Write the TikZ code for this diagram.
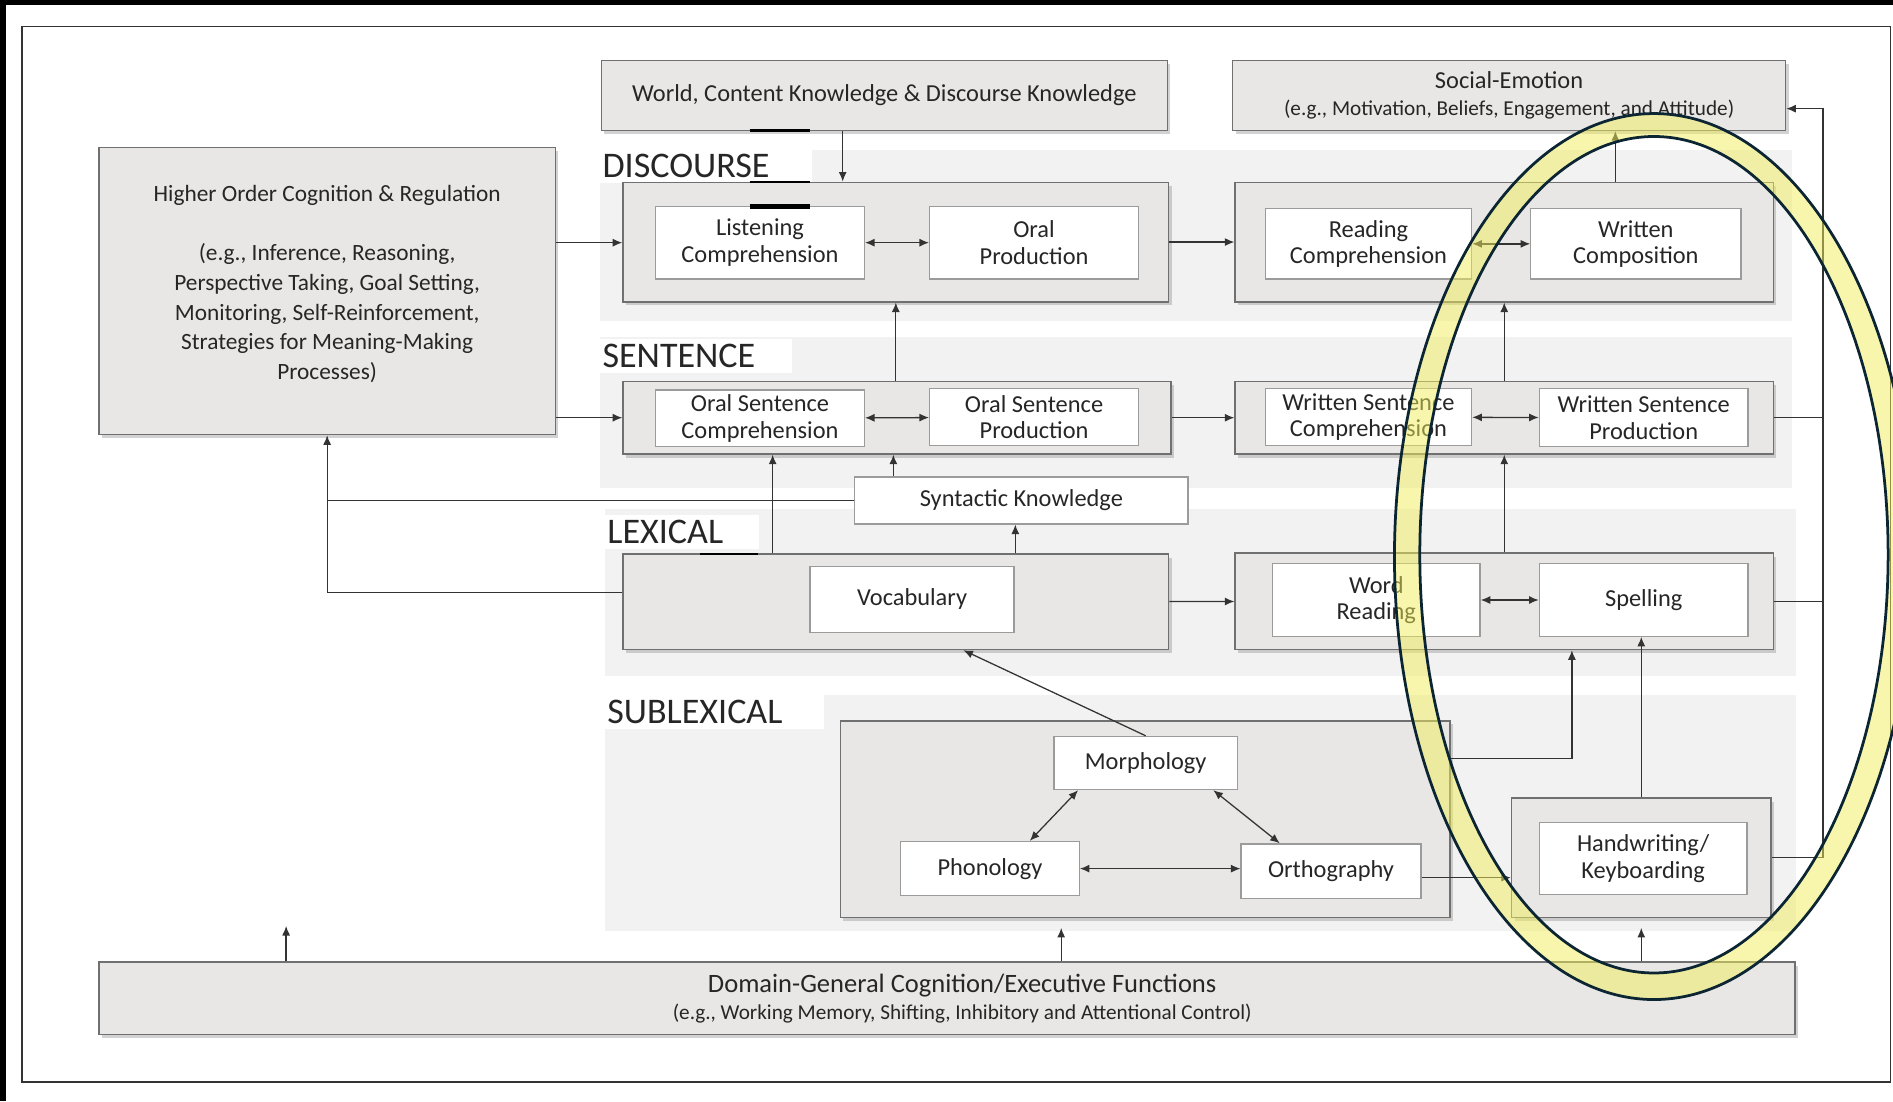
\documentclass[tikz,border=0pt]{standalone}
\usepackage{fontspec}
\setmainfont{Carlito}
\usetikzlibrary{arrows.meta,shadows}
\definecolor{bandgray}{HTML}{F2F2F2}
\definecolor{boxgray}{HTML}{E8E7E6}
\definecolor{edgegray}{HTML}{707070}
\definecolor{linegray}{HTML}{333333}
\definecolor{txtgray}{HTML}{262626}
\definecolor{ringyellow}{HTML}{F0EE5A}
\definecolor{ringnavy}{HTML}{0B2533}
\tikzset{
  wh/.style 2 args={minimum width=#1cm, minimum height=#2cm},
  grp/.style={draw=edgegray, fill=boxgray, line width=0.7pt, inner sep=0pt,
    drop shadow={shadow xshift=0.05cm, shadow yshift=-0.06cm, opacity=0.35}},
  big/.style={grp, align=center, text=txtgray, font=\fontsize{11.5}{13}\selectfont},
  item/.style={draw=edgegray!70, fill=white, line width=0.6pt, inner sep=0pt,
    align=center, text=txtgray, font=\fontsize{11.5}{12.5}\selectfont},
  lvl/.style={anchor=west, fill=white, text width=#1, inner xsep=1pt, inner ysep=0pt,
    minimum height=0.56cm, text=txtgray, font=\fontsize{17}{17}\selectfont},
  lnk/.style={draw=linegray, line width=0.6pt},
}
\begin{document}
\begin{tikzpicture}[x=0.02cm, y=-0.02cm, >={Latex[length=4.5pt,width=3.8pt]}]
    \useasboundingbox (0,0) rectangle (1568,912);
    \clip (0,0) rectangle (1568,912);
    \fill[white] (0,0) rectangle (1568,912);
    \fill[black] (0,0) rectangle (1568,4);
    \fill[black] (0,0) rectangle (5,912);
    \draw[linegray, line width=0.8pt] (18,22) rectangle (1566,896);

    % level bands
    \fill[bandgray] (497,124) rectangle (1484,266);
    \fill[bandgray] (497,279) rectangle (1484,404);
    \fill[bandgray] (501,422) rectangle (1488,560);
    \fill[bandgray] (501,576) rectangle (1488,771);
    \node[lvl=3.44cm] (lvlD) at (497,137.5) {DISCOURSE};
    \node[lvl=3.11cm] (lvlS) at (497,295) {SENTENCE};
    \node[lvl=2.47cm] (lvlL) at (501,440.5) {LEXICAL};
    \node[lvl=3.55cm] (lvlU) at (501,589.5) {SUBLEXICAL};

    % outer boxes
    \node[big, wh={9.38}{1.16}] (world) at (732.5,79) {World, Content Knowledge \& Discourse Knowledge};
    \node[big, wh={9.16}{1.16}] (social) at (1250,79)
        {Social-Emotion\\{\fontsize{10}{11}\selectfont (e.g., Motivation, Beliefs, Engagement, and Attitude)}};
    \node[big, wh={7.56}{4.76}, font=\fontsize{11}{14}\selectfont] (hoc) at (271,241)
        {Higher Order Cognition \& Regulation\\[14pt](e.g., Inference, Reasoning,\\Perspective Taking, Goal Setting,\\Monitoring, Self-Reinforcement,\\Strategies for Meaning-Making\\Processes)\\[-6pt]\mbox{}};
    \node[big, wh={28.1}{1.2}, font=\fontsize{12.5}{13}\selectfont] (domain) at (784.5,827)
        {\hspace*{0.5cm}Domain-General Cognition/Executive Functions\\\hspace*{0.5cm}{\fontsize{10}{11}\selectfont (e.g., Working Memory, Shifting, Inhibitory and Attentional Control)}};

    % group boxes
    \node[grp, wh={9.04}{1.98}] (oralD) at (742,200.5) {};
    \node[grp, wh={8.92}{1.98}] (writD) at (1246,200.5) {};
    \node[grp, wh={9.08}{1.2}] (oralS) at (743,346) {};
    \node[grp, wh={8.92}{1.2}] (writS) at (1246,346) {};
    \node[grp, wh={9.04}{1.58}] (vocG) at (742,498.5) {};
    \node[grp, wh={8.92}{1.6}] (wordG) at (1246,498) {};
    \node[grp, wh={10.1}{3.26}] (subG) at (948.5,678.5) {};
    \node[grp, wh={4.3}{1.98}] (handG) at (1359.5,710.5) {};

    % inner boxes
    \node[item, wh={3.46}{1.2}] (listen) at (629.5,201) {Listening\\Comprehension};
    \node[item, wh={3.46}{1.2}] (oralP) at (856.5,201) {Oral\\Production};
    \node[item, wh={3.42}{1.16}] (readC) at (1133.5,202) {Reading\\Comprehension};
    \node[item, wh={3.48}{1.16}] (writC) at (1355,202) {Written\\Composition};
    \node[item, wh={3.46}{0.94}] (osComp) at (629.5,346.5) {Oral Sentence\\Comprehension};
    \node[item, wh={3.46}{0.94}] (osProd) at (856.5,345.5) {Oral Sentence\\Production};
    \node[item, wh={3.42}{0.94}] (wsComp) at (1133.5,345.5) {Written Sentence\\Comprehension};
    \node[item, wh={3.46}{0.96}] (wsProd) at (1361.5,346) {Written Sentence\\Production};
    \node[item, wh={5.52}{0.78}] (synt) at (846,414.5) {Syntactic Knowledge};
    \node[item, wh={3.38}{1.1}] (vocab) at (755.5,496.5) {Vocabulary};
    \node[item, wh={3.44}{1.2}] (wordR) at (1140,497) {Word\\Reading};
    \node[item, wh={3.46}{1.2}] (spell) at (1361.5,497) {Spelling};
    \node[item, wh={3.04}{0.88}] (morph) at (949,632) {Morphology};
    \node[item, wh={2.96}{0.9}] (phon) at (820,719.5) {Phonology};
    \node[item, wh={2.98}{0.9}] (ortho) at (1102.5,721.5) {Orthography};
    \node[item, wh={3.44}{1.2}] (hand) at (1361,711) {Handwriting/\\Keyboarding};

    % dark border marks
    \draw[black, line width=1.1pt] (621,108) -- (671,108) (621,151) -- (671,151) (580,459) -- (628,459);
    \draw[black, line width=2pt] (621,171) -- (671,171);

    % discourse links
    \draw[lnk,->] (hoc.east |- 0,201) -- (oralD.west |- 0,201);
    \draw[lnk,->] (world.south -| 698,0) -- (oralD.north -| 698,0);
    \draw[lnk,<->] (listen) -- (oralP);
    \draw[lnk,->] (oralD) -- (writD);
    \draw[lnk,<->] (readC) -- (writC);
    \draw[lnk,->] (writD.north -| 1338,0) -- (social.south -| 1338,0);
    \coordinate (rbus) at (1510,90);
    \draw[lnk,->] (handG.east) -- (handG.east -| rbus) -- (rbus) -- (social.east |- rbus);
    \draw[lnk] (writS.east) -- (writS.east -| rbus);
    \draw[lnk] (wordG.east) -- (wordG.east -| rbus);

    % sentence links
    \draw[lnk,->] (hoc.east |- oralS.west) -- (oralS.west);
    \draw[lnk,->] (oralS.north -| oralD.south) -- (oralD.south);
    \draw[lnk,<->] (osComp) -- (osProd);
    \draw[lnk,->] (oralS) -- (writS);
    \draw[lnk,->] (writS.north) -- (writD.south);
    \draw[lnk,<->] (wsComp) -- (wsProd);
    \draw[lnk,->] (synt.north -| 740,0) -- (oralS.south -| 740,0);
    \draw[lnk,->] (synt.west) -| (hoc.south);
    \draw[lnk] (vocG.west |- 0,491) -| (synt.west -| hoc.south);

    % lexical links
    \draw[lnk,->] (vocG.north -| 640,0) -- (oralS.south -| 640,0);
    \draw[lnk,->] (vocG.north -| 841,0) -- (synt.south -| 841,0);
    \draw[lnk,->] (vocG) -- (wordG);
    \draw[lnk,<->] (wordR) -- (spell);
    \draw[lnk,->] (wordG.north) -- (writS.south);

    % sublexical links
    \draw[lnk,->] (morph.north) -- (vocG.south -| 798,0);
    \draw[lnk,<->] (morph.south -| 893,0) -- (phon.north -| 853,0);
    \draw[lnk,<->] (morph.south -| 1005,0) -- (ortho.north -| 1060,0);
    \draw[lnk,<->] (phon.east) -- (phon.east -| ortho.west);
    \draw[lnk,->] (subG.east |- 0,628) -| (wordG.south -| 1302,0);
    \draw[lnk,->] (ortho.east |- 0,727) -- (handG.west |- 0,727);
    \draw[lnk,->] (handG.north) -- (handG.north |- spell.south);

    % domain-general links
    \coordinate (dgfree) at (237,767);
    \draw[lnk,->] (domain.north -| dgfree) -- (dgfree);
    \draw[lnk,->, shorten >=0.16cm] (domain.north -| 879,0) -- (subG.south -| 879,0);
    \draw[lnk,->, shorten >=0.16cm] (domain.north -| handG.south) -- (handG.south);

    % highlight ring
    \fill[ringyellow, opacity=0.5, even odd rule]
        (1370,461) ellipse [x radius=4.3cm, y radius=7.34cm]
        (1370,459.5) ellipse [x radius=3.88cm, y radius=6.93cm];
    \draw[ringnavy, line width=1.3pt] (1370,461) ellipse [x radius=4.3cm, y radius=7.34cm];
    \draw[ringnavy, line width=1.3pt] (1370,459.5) ellipse [x radius=3.88cm, y radius=6.93cm];
\end{tikzpicture}
\end{document}
